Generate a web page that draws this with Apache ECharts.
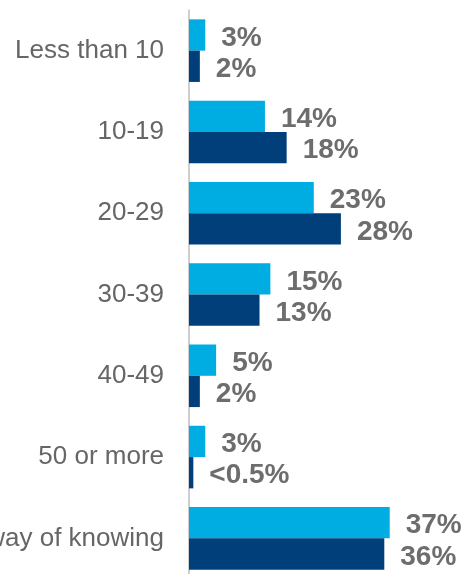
<!DOCTYPE html>
<html>
<head>
<meta charset="utf-8">
<script src="https://cdn.jsdelivr.net/npm/echarts@6/dist/echarts.min.js"></script>
<style>
html, body { margin: 0; padding: 0; background: #fff; }
#chart { width: 467px; height: 574px; }
</style>
</head>
<body>
<div id="chart"></div>
<script>
var categories = ['Less than 10', '10-19', '20-29', '30-39', '40-49', '50 or more', 'No way of knowing'];
var lightValues = [3, 14, 23, 15, 5, 3, 37];
var darkValues = [2, 18, 28, 13, 2, 0.8, 36];
var lightLabels = ['3%', '14%', '23%', '15%', '5%', '3%', '37%'];
var darkLabels = ['2%', '18%', '28%', '13%', '2%', '<0.5%', '36%'];

var myChart = echarts.init(document.getElementById('chart'));

var labelStyle = {
    show: true,
    position: 'right',
    distance: 16,
    offset: [0, 3],
    color: '#6d6d6d',
    fontFamily: 'Liberation Sans',
    fontWeight: 'bold',
    fontSize: 28
};

option = {
    animation: false,
    grid: {
        left: 189,
        top: 10,
        width: 217,
        height: 569,
        containLabel: false,
        outerBoundsMode: 'none'
    },
    xAxis: {
        type: 'value',
        min: 0,
        max: 40,
        show: false
    },
    yAxis: {
        type: 'category',
        inverse: true,
        data: categories,
        axisLine: {
            lineStyle: { color: '#bfbfbf', width: 1.5 }
        },
        axisTick: {
            length: 8,
            lineStyle: { color: '#bfbfbf', width: 1.5 }
        },
        axisLabel: {
            margin: 25,
            color: '#666666',
            fontFamily: 'Liberation Sans',
            fontSize: 26
        }
    },
    series: [{
        name: 'Light',
        type: 'bar',
        data: lightValues,
        barGap: '0%',
        barCategoryGap: '23%',
        itemStyle: { color: '#00ade2' },
        label: Object.assign({}, labelStyle, {
            formatter: function (p) { return lightLabels[p.dataIndex]; }
        })
    }, {
        name: 'Dark',
        type: 'bar',
        data: darkValues,
        barGap: '0%',
        barCategoryGap: '23%',
        itemStyle: { color: '#003f7a' },
        label: Object.assign({}, labelStyle, {
            formatter: function (p) { return darkLabels[p.dataIndex]; }
        })
    }]
};

myChart.setOption(option);
</script>
</body>
</html>
